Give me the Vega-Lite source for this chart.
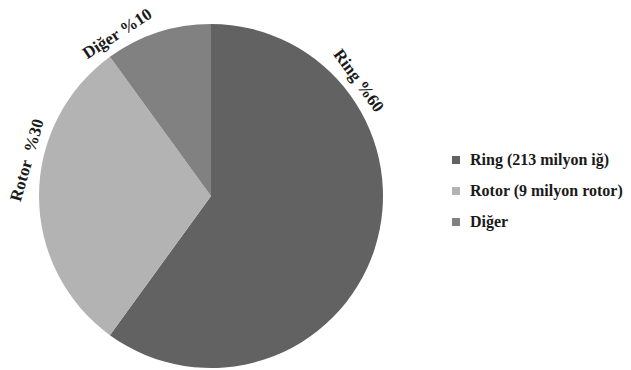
{
  "$schema": "https://vega.github.io/schema/vega-lite/v6.json",
  "width": 344,
  "height": 344,
  "padding": {"left": 39, "top": 24, "right": 248, "bottom": 2},
  "autosize": {"type": "none"},
  "background": "white",
  "config": {"view": {"stroke": null}},
  "data": {
    "values": [
      {"category": "Ring", "legend": "Ring (213 milyon iğ)", "value": 60, "o": 1, "label": "Ring %60"},
      {"category": "Rotor", "legend": "Rotor (9 milyon rotor)", "value": 30, "o": 2, "label": "Rotor\u00a0 %30"},
      {"category": "Diğer", "legend": "Diğer", "value": 10, "o": 3, "label": "Diğer %10"}
    ]
  },
  "encoding": {
    "theta": {"field": "value", "type": "quantitative", "stack": true},
    "order": {"field": "o", "type": "quantitative"}
  },
  "layer": [
    {
      "mark": {"type": "arc", "outerRadius": 172},
      "encoding": {
        "color": {
          "field": "legend",
          "type": "nominal",
          "sort": ["Ring (213 milyon iğ)", "Rotor (9 milyon rotor)", "Diğer"],
          "scale": {
            "domain": ["Ring (213 milyon iğ)", "Rotor (9 milyon rotor)", "Diğer"],
            "range": ["#626262", "#b3b3b3", "#818181"]
          },
          "legend": {
            "title": null,
            "orient": "none",
            "legendX": 409,
            "legendY": 128,
            "padding": 0,
            "symbolType": "square",
            "symbolSize": 64,
            "symbolStrokeWidth": 0,
            "labelFont": "Liberation Serif",
            "labelFontWeight": "bold",
            "labelFontSize": 16,
            "labelColor": "#1a1a1a",
            "labelOffset": 6,
            "rowPadding": 15,
            "labelLimit": 300
          }
        }
      }
    },
    {
      "mark": {"type": "text", "radius": 187, "thetaOffset": -0.977, "angle": 54, "font": "Liberation Serif", "fontWeight": "bold", "fontSize": 17, "color": "#1a1a1a", "align": "center", "baseline": "middle"},
      "encoding": {
        "text": {"condition": {"test": "datum.category === 'Ring'", "field": "label"}, "value": ""}
      }
    },
    {
      "mark": {"type": "text", "radius": 187, "thetaOffset": 0.192, "angle": 286, "font": "Liberation Serif", "fontWeight": "bold", "fontSize": 17, "color": "#1a1a1a", "align": "center", "baseline": "middle"},
      "encoding": {
        "text": {"condition": {"test": "datum.category === 'Rotor'", "field": "label"}, "value": ""}
      }
    },
    {
      "mark": {"type": "text", "radius": 187, "thetaOffset": -0.209, "angle": 327, "font": "Liberation Serif", "fontWeight": "bold", "fontSize": 17, "color": "#1a1a1a", "align": "center", "baseline": "middle"},
      "encoding": {
        "text": {"condition": {"test": "datum.category === 'Diğer'", "field": "label"}, "value": ""}
      }
    }
  ]
}
